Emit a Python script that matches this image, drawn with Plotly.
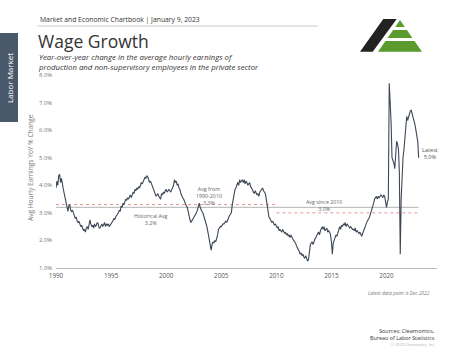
import pandas as pd
import plotly.graph_objects as go

# ---------------- data ----------------
start_month = "1990-01-01"
wage_growth_yoy = [
    3.90, 4.15, 4.00, 4.35, 4.40, 4.10, 4.25, 3.95, 3.85, 3.70, 3.55, 3.40,  # 1990
    3.30, 3.05, 3.25, 3.30, 3.10, 3.05, 3.10, 2.95, 2.90, 2.80, 2.85, 2.70,  # 1991
    2.65, 2.70, 2.55, 2.50, 2.55, 2.40, 2.35, 2.40, 2.30, 2.45, 2.50, 2.40,  # 1992
    2.60, 2.75, 2.60, 2.50, 2.55, 2.45, 2.60, 2.50, 2.55, 2.65, 2.60, 2.45,  # 1993
    2.45, 2.55, 2.60, 2.50, 2.55, 2.65, 2.50, 2.60, 2.55, 2.60, 2.50, 2.55,  # 1994
    2.60, 2.65, 2.70, 2.80, 2.75, 2.85, 2.90, 2.95, 3.00, 3.10, 3.05, 3.25,  # 1995
    3.20, 3.35, 3.30, 3.40, 3.50, 3.45, 3.55, 3.50, 3.60, 3.65, 3.55, 3.70,  # 1996
    3.75, 3.70, 3.85, 3.80, 3.90, 3.85, 3.95, 3.90, 4.00, 4.10, 4.05, 4.15,  # 1997
    4.20, 4.30, 4.25, 4.35, 4.30, 4.20, 4.10, 4.15, 4.05, 3.95, 3.85, 3.80,  # 1998
    3.70, 3.60, 3.65, 3.70, 3.60, 3.55, 3.50, 3.70, 3.65, 3.75, 3.70, 3.80,  # 1999
    3.85, 3.75, 3.80, 3.85, 3.80, 3.75, 3.85, 3.90, 4.00, 4.20, 4.10, 4.15,  # 2000
    4.00, 4.05, 3.90, 3.85, 3.70, 3.60, 3.55, 3.50, 3.40, 3.30, 3.25, 3.20,  # 2001
    3.00, 2.85, 2.75, 2.65, 2.70, 2.80, 2.85, 2.90, 2.95, 3.00, 3.10, 3.30,  # 2002
    3.35, 3.20, 3.10, 3.05, 3.00, 2.90, 2.80, 2.70, 2.55, 2.40, 2.20, 2.00,  # 2003
    1.80, 1.65, 1.85, 1.95, 1.90, 2.00, 1.95, 2.05, 2.20, 2.40, 2.45, 2.50,  # 2004
    2.50, 2.55, 2.60, 2.60, 2.65, 2.70, 2.65, 2.75, 2.80, 2.90, 2.95, 3.00,  # 2005
    3.30, 3.50, 3.80, 3.85, 3.90, 4.00, 4.10, 4.00, 4.20, 4.10, 4.15, 4.20,  # 2006
    4.10, 4.20, 4.05, 4.15, 4.10, 4.00, 4.05, 4.10, 3.95, 3.90, 3.85, 3.75,  # 2007
    3.70, 3.80, 3.70, 3.65, 3.70, 3.60, 3.75, 3.80, 3.85, 3.90, 3.80, 3.75,  # 2008
    3.70, 3.50, 3.30, 3.00, 2.85, 2.80, 2.75, 2.65, 2.70, 2.60, 2.55, 2.60,  # 2009
    2.50, 2.45, 2.50, 2.35, 2.40, 2.35, 2.30, 2.40, 2.30, 2.25, 2.30, 2.20,  # 2010
    2.25, 2.15, 2.20, 2.10, 2.20, 2.10, 2.05, 2.00, 1.95, 1.90, 1.80, 1.75,  # 2011
    1.65, 1.60, 1.50, 1.55, 1.45, 1.50, 1.40, 1.35, 1.45, 1.30, 1.25, 1.30,  # 2012
    1.70, 1.85, 1.90, 1.95, 1.85, 2.00, 2.05, 2.10, 2.20, 2.25, 2.30, 2.20,  # 2013
    2.35, 2.45, 2.50, 2.40, 2.50, 2.35, 2.40, 2.45, 2.30, 2.35, 2.30, 2.20,  # 2014
    1.95, 1.50, 1.90, 2.00, 2.10, 2.20, 2.15, 2.30, 2.35, 2.50, 2.40, 2.55,  # 2015
    2.50, 2.60, 2.55, 2.65, 2.50, 2.60, 2.55, 2.50, 2.45, 2.50, 2.45, 2.40,  # 2016
    2.40, 2.35, 2.45, 2.30, 2.35, 2.30, 2.25, 2.30, 2.20, 2.15, 2.25, 2.35,  # 2017
    2.45, 2.50, 2.60, 2.70, 2.75, 2.80, 2.90, 3.00, 3.10, 3.20, 3.35, 3.50,  # 2018
    3.55, 3.60, 3.50, 3.60, 3.55, 3.60, 3.65, 3.60, 3.55, 3.65, 3.60, 3.40,  # 2019
    3.20, 3.40, 3.50, 7.70, 7.00, 6.30, 5.00, 4.90, 4.80, 4.60, 5.00, 5.60,  # 2020
    5.50, 5.30, 4.50, 1.50, 3.50, 4.70, 5.00, 5.30, 5.70, 6.00, 6.50, 6.35,  # 2021
    6.50, 6.65, 6.70, 6.72, 6.60, 6.50, 6.35, 6.20, 6.00, 5.85, 5.60, 5.00,  # 2022
]
year_ticks = [1990, 1995, 2000, 2005, 2010, 2015, 2020]
y_ticks = [1, 2, 3, 4, 5, 6, 7, 8]

avg_names = ["Historical Avg", "Avg from<br>1990-2010", "Avg since 2010"]
avg_values = [3.2, 3.3, 3.0]
avg_start = ["1990-01-01", "1990-01-01", "2010-01-01"]
avg_end = ["2022-12-01", "2010-01-01", "2022-12-01"]
avg_label_x = ["1998-09-01", "2003-12-01", "2014-05-01"]
avg_label_y = [2.76, 3.61, 3.26]

# ---------------- geometry helpers ----------------
W, H = 474, 355
L, R, T, B = 56, 37, 75, 87
PW, PH = W - L - R, H - T - B


def fx(px):
    return (px - L) / PW


def fy(py):
    return (H - B - py) / PH


dates = pd.date_range(start_month, periods=len(wage_growth_yoy), freq="MS")

FONT = "Open Sans"
LINE_COLOR = "#3c4756"

fig = go.Figure()

# average lines
avg_styles = [dict(color="#aaaaaa", width=0.9, dash="solid"),
              dict(color="#e07a7a", width=0.8, dash="dot"),
              dict(color="#e07a7a", width=0.8, dash="dot")]
for name, v, s, e, st in zip(avg_names, avg_values, avg_start, avg_end, avg_styles):
    fig.add_trace(go.Scatter(x=[s, e], y=[v, v], mode="lines", line=st,
                             hoverinfo="skip", showlegend=False))

fig.add_trace(go.Scatter(x=dates, y=wage_growth_yoy, mode="lines",
                         line=dict(color=LINE_COLOR, width=1.1),
                         showlegend=False, name="Wage growth"))

annotations = []
for name, v, lx, ly in zip(avg_names, avg_values, avg_label_x, avg_label_y):
    annotations.append(dict(x=lx, y=ly, xref="x", yref="y", showarrow=False,
                            text=f"{name}<br>{v:.1f}%",
                            font=dict(family=FONT, size=5.3, color="#666666"),
                            xanchor="center", yanchor="middle"))

latest = wage_growth_yoy[-1]
annotations.append(dict(x=dates[-1], y=latest, xref="x", yref="y", showarrow=False,
                        text=f"Latest<br>{latest:.1f}%", xanchor="left", yanchor="middle",
                        xshift=1, yshift=4,
                        font=dict(family=FONT, size=5.6, color="#555555"), align="center"))

# header texts
annotations += [
    dict(x=fx(38), y=fy(19.5), xref="paper", yref="paper", showarrow=False,
         text="Market and Economic Chartbook | January 9, 2023",
         xanchor="left", yanchor="middle", font=dict(family=FONT, size=6.8, color="#333333")),
    dict(x=fx(35.5), y=fy(40.5), xref="paper", yref="paper", showarrow=False,
         text="Wage Growth", xanchor="left", yanchor="middle",
         font=dict(family=FONT, size=17.5, color="#333333")),
    dict(x=fx(36), y=fy(62), xref="paper", yref="paper", showarrow=False,
         text="<i>Year-over-year change in the average hourly earnings of<br>"
              "production and non-supervisory employees in the private sector</i>",
         xanchor="left", yanchor="middle", align="left",
         font=dict(family=FONT, size=7.8, color="#333333")),
    dict(x=fx(9), y=fy(78), xref="paper", yref="paper", showarrow=False,
         text="Labor Market", textangle=-90, xanchor="center", yanchor="middle",
         font=dict(family=FONT, size=8, color="#ffffff")),
    dict(x=fx(30), y=fy(168), xref="paper", yref="paper", showarrow=False,
         text="Avg Hourly Earnings YoY % Change", textangle=-90,
         xanchor="center", yanchor="middle",
         font=dict(family=FONT, size=6.6, color="#777777")),
    dict(x=fx(432), y=fy(293), xref="paper", yref="paper", showarrow=False,
         text="<i>Latest data point is Dec 2022</i>", xanchor="right", yanchor="middle",
         font=dict(family=FONT, size=4.8, color="#777777")),
    dict(x=fx(437.5), y=fy(334), xref="paper", yref="paper", showarrow=False,
         text="Sources: Clearnomics,<br>Bureau of Labor Statistics", xanchor="right",
         yanchor="middle", align="right",
         font=dict(family=FONT, size=5.4, color="#333333")),
    dict(x=fx(437), y=fy(344.5), xref="paper", yref="paper", showarrow=False,
         text="© 2023 Clearnomics, Inc.", xanchor="right", yanchor="middle",
         font=dict(family=FONT, size=3.8, color="#b0b0b0")),
]


def path(points):
    return "M " + " L ".join(f"{fx(x):.5f},{fy(y):.5f}" for x, y in points) + " Z"


GREEN = "#5b9a2c"
shapes = [
    # side tab
    dict(type="rect", xref="paper", yref="paper", x0=fx(0), x1=fx(18), y0=fy(122), y1=fy(33),
         fillcolor="#4a586b", line=dict(width=0), layer="below"),
    # header rule
    dict(type="line", xref="paper", yref="paper", x0=fx(37), x1=fx(318), y0=fy(26), y1=fy(26),
         line=dict(color="#cccccc", width=1)),
    # logo: black bar
    dict(type="path", xref="paper", yref="paper",
         path=path([(360, 51.7), (383.3, 19), (396.7, 19), (372.7, 51.7)]),
         fillcolor="#222222", line=dict(width=0)),
    # logo: green triangle bands
    dict(type="path", xref="paper", yref="paper",
         path=path([(400, 20), (404.8, 27), (395.2, 27)]),
         fillcolor=GREEN, line=dict(width=0)),
    dict(type="path", xref="paper", yref="paper",
         path=path([(393.1, 30), (406.9, 30), (412.4, 38), (387.6, 38)]),
         fillcolor=GREEN, line=dict(width=0)),
    dict(type="path", xref="paper", yref="paper",
         path=path([(385.5, 41), (414.5, 41), (422, 51.7), (378, 51.7)]),
         fillcolor=GREEN, line=dict(width=0)),
]

fig.update_layout(
    width=W, height=H, autosize=False,
    margin=dict(l=L, r=R, t=T, b=B, pad=0),
    paper_bgcolor="white", plot_bgcolor="white",
    showlegend=False,
    annotations=annotations, shapes=shapes,
    font=dict(family=FONT),
    xaxis=dict(range=["1990-01-01", "2024-08-01"], showgrid=False, zeroline=False,
               showline=True, linecolor="#b8b8b8", linewidth=1.3,
               tickmode="array", tickvals=[f"{y}-01-01" for y in year_ticks],
               ticktext=[str(y) for y in year_ticks], ticks="",
               ticklabelstandoff=1,
               tickfont=dict(family=FONT, size=6.3, color="#555555")),
    yaxis=dict(range=[1, 8], showgrid=False, zeroline=False, showline=False,
               tickmode="array", tickvals=y_ticks,
               ticktext=[f"{v:.1f}%" for v in y_ticks], ticks="",
               ticklabelstandoff=3,
               tickfont=dict(family=FONT, size=5.8, color="#777777")),
)

fig.write_html("out.html", config={"displayModeBar": False},
               post_script="document.body.style.margin='0px';document.body.style.padding='0px';")
